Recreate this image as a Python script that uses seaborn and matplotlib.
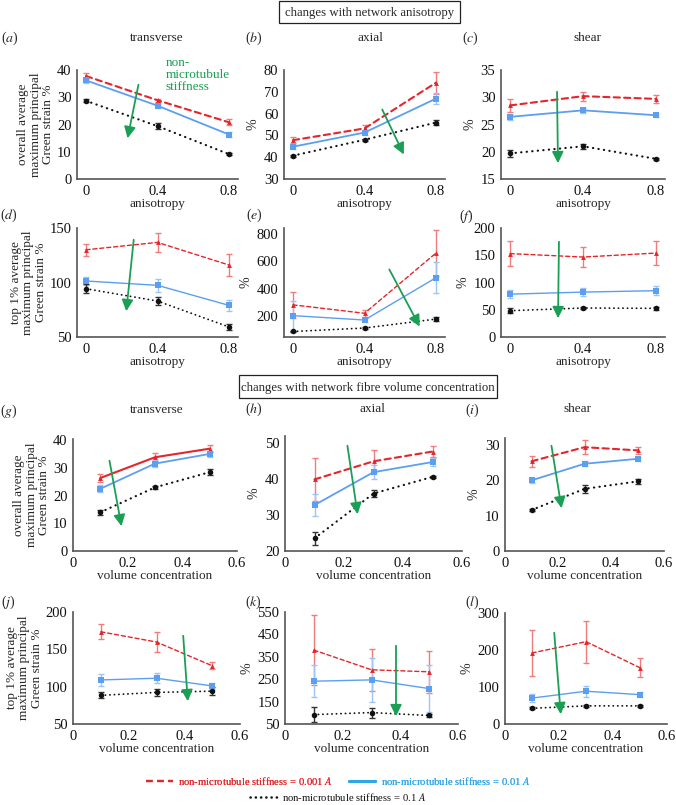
import matplotlib
matplotlib.use("Agg")
import matplotlib.pyplot as plt
import seaborn as sns
from matplotlib.lines import Line2D
from matplotlib.patches import Rectangle

# x values
aniso = [0, 0.4, 0.8]
volc = [0.1, 0.3, 0.5]

# each panel: rows = stiffness 0.001A (red), 0.01A (blue), 0.1A (black)
a_vals = [[37.8, 28.9, 20.8], [36.2, 26.9, 16.3], [28.7, 19.4, 9.1]]
a_errs = [[1.2, 0.6, 1.1], [1.0, 0.8, 1.0], [0.6, 1.0, 0.3]]
b_vals = [[47.8, 53.2, 74.2], [44.8, 51.3, 66.9], [40.7, 48.0, 55.9]]
b_errs = [[1.5, 1.5, 5.0], [1.2, 1.0, 2.5], [0.5, 0.5, 1.0]]
c_vals = [[28.5, 30.2, 29.7], [26.4, 27.6, 26.7], [19.7, 21.0, 18.7]]
c_errs = [[1.2, 0.8, 0.8], [0.5, 0.4, 0.3], [0.6, 0.5, 0.2]]
d_vals = [[130, 136.8, 116], [101.4, 97.4, 79], [94.3, 83, 59.2]]
d_errs = [[5.5, 8.6, 10], [4, 6, 5], [4, 4, 3]]
e_vals = [[283, 222, 659], [205, 173, 480], [90, 115, 180]]
e_errs = [[92, 24, 165], [109, 15, 114], [5, 5, 15]]
f_vals = [[153, 146.7, 154], [78.6, 82.4, 85], [48.3, 53.2, 52.6]]
f_errs = [[23, 19, 22], [7, 8, 8], [4, 2, 3]]
g_vals = [[26.4, 33.9, 37.0], [22.5, 31.6, 35.1], [14.0, 23.0, 28.5]]
g_errs = [[1.5, 1.5, 1.2], [1.2, 1.2, 1.0], [1.0, 0.5, 1.0]]
h_vals = [[39.8, 44.8, 47.5], [32.7, 41.8, 44.6], [23.5, 35.9, 40.5]]
h_errs = [[6.0, 3.0, 1.5], [3.0, 2.0, 1.0], [1.8, 1.0, 0.3]]
i_vals = [[25.4, 29.4, 28.5], [20.0, 24.7, 26.1], [11.6, 17.6, 19.7]]
i_errs = [[1.5, 2.0, 1.0], [0.7, 0.7, 0.6], [0.3, 1.2, 0.6]]
j_vals = [[173.5, 159.8, 128], [109, 111.3, 101], [88.4, 92.3, 94]]
j_errs = [[10, 14, 5], [8, 7, 4], [4, 5, 5]]
k_vals = [[380, 292, 283], [241, 247, 208], [92, 101, 88]]
k_errs = [[155, 94, 93], [72, 98, 105], [35, 22, 5]]
l_vals = [[192, 222.5, 152], [70, 88.6, 79.4], [42.5, 49, 49]]
l_errs = [[62, 57, 26], [10, 15, 7], [3, 3, 3]]

W, H = 676, 805
sns.set_theme(style="ticks")
plt.rcParams["font.family"] = ["Liberation Serif", "DejaVu Serif"]
plt.rcParams["mathtext.fontset"] = "stix"

fig = plt.figure(figsize=(W / 100, H / 100), dpi=100)


def fr(x, y):
    return x / W, 1 - y / H


def box(l, t, r, b):
    return [l / W, 1 - b / H, (r - l) / W, (b - t) / H]


RED, BLUE, BLACK = "#e3262b", "#5c9ff0", "#111111"
RED_E, BLUE_E, BLACK_E = "#ef7d7d", "#9cc4f5", "#333333"
GREEN = "#1a9f55"
FS = 9.5

ov_label = "overall average\nmaximum principal\nGreen strain %"
top_label = "top 1% average\nmaximum principal\nGreen strain %"

# (letter, vals, errs, x, rect px, ylim, yticks, ylabel, thin, red solid)
panels = [
    ("a", a_vals, a_errs, aniso, (77, 70, 238, 179), (0, 40), range(0, 41, 10), ov_label, False, False),
    ("b", b_vals, b_errs, aniso, (284, 70, 445, 179), (30, 80), range(30, 81, 10), "%", False, False),
    ("c", c_vals, c_errs, aniso, (501, 70, 665, 179), (15, 35), range(15, 36, 5), "%", False, False),
    ("d", d_vals, d_errs, aniso, (77, 228, 238, 337), (50, 150), [50, 100, 150], top_label, True, False),
    ("e", e_vals, e_errs, aniso, (284, 228, 445, 337), (50, 840), [200, 400, 600, 800], "%", True, False),
    ("f", f_vals, f_errs, aniso, (501, 228, 665, 337), (0, 200), range(0, 201, 50), "%", True, False),
    ("g", g_vals, g_errs, volc, (73, 439, 237, 551), (0, 40.5), range(0, 41, 10), ov_label, False, True),
    ("h", h_vals, h_errs, volc, (285, 436, 462, 551), (20, 51.8), range(20, 51, 10), "%", False, False),
    ("i", i_vals, i_errs, volc, (505, 438, 664, 551), (0, 32), range(0, 31, 10), "%", False, False),
    ("j", j_vals, j_errs, volc, (73, 612, 240, 724), (50, 200), range(50, 201, 50), top_label, True, False),
    ("k", k_vals, k_errs, volc, (285, 612, 458, 724), (50, 550), range(50, 551, 100), "%", True, False),
    ("l", l_vals, l_errs, volc, (505, 613, 667, 724), (0, 300), range(0, 301, 100), "%", True, False),
]

letter_pos = {"a": (10, 38), "b": (254, 38), "c": (470, 38),
              "d": (9, 215), "e": (254, 215), "f": (466, 216),
              "g": (9, 411), "h": (254, 409), "i": (472, 410),
              "j": (8, 602), "k": (253, 602), "l": (472, 602)}

arrows = {"a": ((139, 82), (127, 141)), "b": ((381, 107), (405, 157)),
          "c": ((557, 89), (558, 166)), "d": ((134, 237), (126, 314)),
          "e": ((388, 267), (421, 329)), "f": ((559, 239), (558, 321)),
          "g": ((109, 458), (122, 529)), "h": ((347, 443), (358, 517)),
          "i": ((551, 443), (562, 511)), "j": ((183, 633), (188, 704)),
          "k": ((396, 643), (396, 719)), "l": ((554, 630), (561, 717))}

for letter, vals, errs, xs, rect, ylim, yticks, ylab, thin, red_solid in panels:
    ax = fig.add_axes(box(*rect))
    lw = 1.0 if thin else 1.5
    styles = [
        (RED, RED_E, "-" if red_solid else (0, (3, 2)), "^", 3.5),
        (BLUE, BLUE_E, "-", "s", 4),
        (BLACK, BLACK_E, (0, (0.1, 2.4)), "o", 4),
    ]
    for (col, ecol, ls, mk, ms), v, e in zip(styles, vals, errs):
        ax.errorbar(xs, v, yerr=e, fmt="none", ecolor=ecol, elinewidth=1.0,
                    capsize=2, capthick=1.0, zorder=2)
        if col == BLACK:
            lwi = 1.3 if thin else 1.6
        elif col == BLUE:
            lwi = 1.0 if thin else 1.3
        else:
            lwi = lw
        sns.lineplot(x=xs, y=v, ax=ax, color=col, linestyle=ls, lw=lwi,
                     marker=mk, markersize=ms, markeredgewidth=0,
                     dash_capstyle="round", zorder=3)
    if xs is aniso:
        ax.set_xlim(-0.05, 0.85)
        ax.set_xticks([0, 0.4, 0.8])
        ax.set_xticklabels(["0", "0.4", "0.8"])
        ax.set_xlabel("anisotropy", fontsize=FS, labelpad=0)
    else:
        ax.set_xlim(0, 0.6)
        ax.set_xticks([0, 0.2, 0.4, 0.6])
        ax.set_xticklabels(["0", "0.2", "0.4", "0.6"])
        ax.set_xlabel("volume concentration", fontsize=FS, labelpad=0)
    ax.set_ylim(*ylim)
    ax.set_yticks(list(yticks))
    ax.tick_params(length=0, labelsize=10.5, pad=4, colors="#111111")
    sns.despine(ax=ax)
    for s in ("left", "bottom"):
        ax.spines[s].set_color("#555555")
        ax.spines[s].set_linewidth(1.2)
    if ylab == "%":
        ax.set_ylabel("%", fontsize=10, labelpad=3)
    else:
        ax.set_ylabel(ylab, fontsize=FS, labelpad=2, linespacing=1.05)
    lx, ly = letter_pos[letter]
    fig.text(*fr(lx, ly), "($%s$)" % letter, fontsize=10, ha="center", va="center")
    (x0, y0), (x1, y1) = arrows[letter]
    fig.add_artist(matplotlib.patches.FancyArrowPatch(
        fr(x0, y0), fr(x1, y1), transform=fig.transFigure,
        arrowstyle="-|>", mutation_scale=17, color=GREEN, lw=1.3, zorder=5))

# column titles
for txt, x, y in [("transverse", 157, 38), ("axial", 370, 38), ("shear", 587, 38),
                  ("transverse", 157, 410), ("axial", 372, 409), ("shear", 577, 409)]:
    fig.text(*fr(x, y), txt, fontsize=FS, ha="center", va="center")

# section boxes
for txt, l, t, r, b in [("changes with network anisotropy", 279, 1, 460, 23),
                        ("changes with network fibre volume concentration", 239, 375, 497, 398)]:
    fig.add_artist(Rectangle(fr(l, b), (r - l) / W, (b - t) / H, transform=fig.transFigure,
                             fill=False, ec="#222222", lw=0.9))
    fig.text(*fr((l + r) / 2, (t + b) / 2 + 1), txt, fontsize=9.2, ha="center", va="center")

fig.text(*fr(166, 57), "non-\nmicrotubule\nstiffness", color=GREEN, fontsize=FS,
         ha="left", va="top", linespacing=1.0)

# legend
h_red = Line2D([], [], color=RED, lw=1.6, linestyle=(0, (3, 2)))
h_blue = Line2D([], [], color="#2fa6e6", lw=2.2)
h_black = Line2D([], [], color=BLACK, lw=1.8, linestyle=(0, (0.1, 2.0)), dash_capstyle="round")
leg1 = fig.legend([h_red, h_blue],
                  ["non-microtubule stiffness = 0.001 $A$", "non-microtubule stiffness = 0.01 $A$"],
                  loc="center", bbox_to_anchor=fr(338, 781), ncol=2, frameon=False,
                  fontsize=7.7, handlelength=2.5, handletextpad=0.5, columnspacing=1.5,
                  labelcolor=[RED, "#2fa6e6"])
fig.legend([h_black], ["non-microtubule stiffness = 0.1 $A$"],
           loc="center", bbox_to_anchor=fr(338, 797), frameon=False,
           fontsize=7.7, handlelength=2.5, handletextpad=0.5, labelcolor=[BLACK])
fig.add_artist(leg1)

fig.savefig("out.png", dpi=100)
